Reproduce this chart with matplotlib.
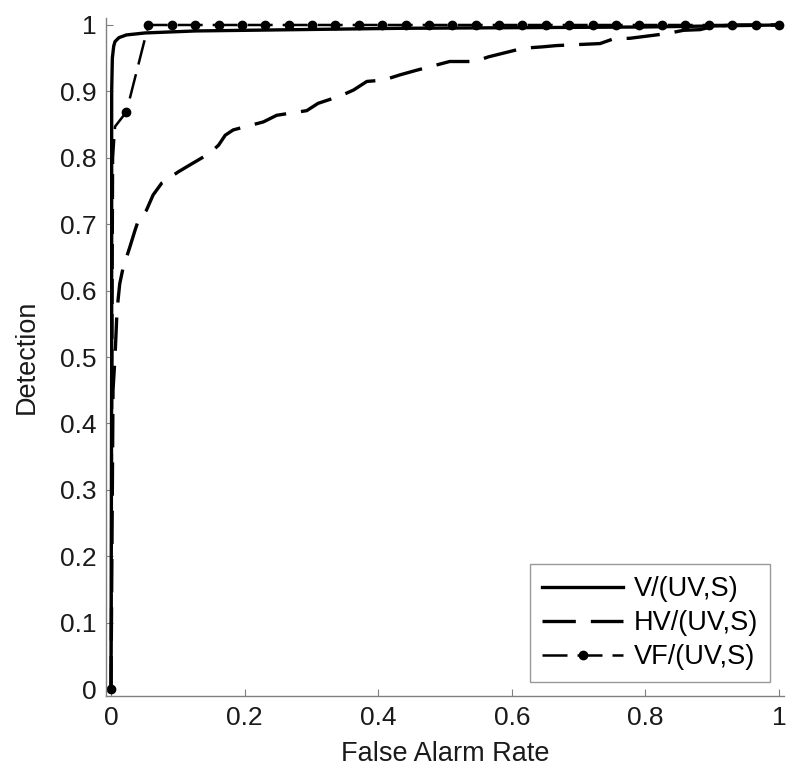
import matplotlib
matplotlib.use("Agg")
import matplotlib.pyplot as plt

plt.rcParams['font.family'] = ['Liberation Sans', 'DejaVu Sans']

# V/(UV,S) curve
v_far = [0.0, 0.001, 0.001, 0.002, 0.004, 0.006, 0.012, 0.023, 0.051, 0.126, 0.433, 0.800, 1.0]
v_det = [0.0, 0.50, 0.90, 0.950, 0.968, 0.975, 0.981, 0.985, 0.988, 0.991, 0.995, 0.997, 1.0]

# HV/(UV,S) curve
hv_far = [0.0, 0.003, 0.006, 0.009, 0.013, 0.018, 0.028, 0.036, 0.041, 0.053, 0.063,
          0.076, 0.101, 0.116, 0.148, 0.161, 0.171, 0.183, 0.228, 0.248, 0.293,
          0.310, 0.343, 0.363, 0.383, 0.408, 0.433, 0.458, 0.507, 0.545, 0.565,
          0.617, 0.645, 0.667, 0.732, 0.752, 0.777, 0.832, 0.857, 0.882, 0.902,
          0.930, 1.0]
hv_det = [0.0, 0.45, 0.50, 0.57, 0.61, 0.634, 0.665, 0.691, 0.706, 0.721, 0.744,
          0.762, 0.779, 0.788, 0.807, 0.819, 0.834, 0.842, 0.854, 0.864, 0.871,
          0.882, 0.893, 0.902, 0.915, 0.917, 0.925, 0.932, 0.945, 0.945, 0.952,
          0.965, 0.967, 0.969, 0.972, 0.979, 0.980, 0.987, 0.992, 0.993, 0.998,
          1.0, 1.0]

# VF/(UV,S) curve (points drawn with markers)
vf_far = [0.0, 0.003, 0.006, 0.023, 0.056, 0.091, 0.126, 0.161, 0.196, 0.231, 0.266,
          0.301, 0.336, 0.371, 0.406, 0.441, 0.476, 0.511, 0.546, 0.581, 0.616,
          0.651, 0.686, 0.721, 0.756, 0.790, 0.825, 0.860, 0.895, 0.930, 0.965, 1.0]
vf_det = [0.0, 0.80, 0.847, 0.869, 1.0, 1.0, 1.0, 1.0, 1.0, 1.0, 1.0,
          1.0, 1.0, 1.0, 1.0, 1.0, 1.0, 1.0, 1.0, 1.0, 1.0,
          1.0, 1.0, 1.0, 1.0, 1.0, 1.0, 1.0, 1.0, 1.0, 1.0, 1.0]
vf_marks = [0] + list(range(3, len(vf_far)))

labels = ['V/(UV,S)', 'HV/(UV,S)', 'VF/(UV,S)']

fig = plt.figure(figsize=(8, 7.83), dpi=100)
ax = fig.add_axes([0.1325, 0.1111, 0.8475, 0.8659])

ax.plot(v_far, v_det, '-', color='black', lw=2.4, label=labels[0])
ax.plot(hv_far, hv_det, color='black', lw=2.4, dashes=(10, 4.5), label=labels[1])
ax.plot(vf_far, vf_det, color='black', lw=1.8, dashes=(10, 4), marker='o',
        markersize=6, markevery=vf_marks, label=labels[2])

ax.set_xlim(-0.0075, 1.0075)
ax.set_ylim(-0.0105, 1.0105)
ax.set_xticks([0, 0.2, 0.4, 0.6, 0.8, 1])
ax.set_xticklabels(['0', '0.2', '0.4', '0.6', '0.8', '1'])
ax.set_yticks([i / 10 for i in range(11)])
ax.set_yticklabels(['0'] + ['0.%d' % i for i in range(1, 10)] + ['1'])

for s in ['top', 'right']:
    ax.spines[s].set_visible(False)
for s in ['left', 'bottom']:
    ax.spines[s].set_color('#808080')
    ax.spines[s].set_linewidth(1.0)
ax.tick_params(direction='in', length=5, color='#808080', labelsize=19, labelcolor='#1a1a1a')
ax.tick_params(axis='x', pad=7)
ax.tick_params(axis='y', pad=6.5)

ax.set_xlabel('False Alarm Rate', fontsize=19.5, color='#1a1a1a', labelpad=8)
ax.set_ylabel('Detection', fontsize=19.5, color='#1a1a1a', labelpad=15)

leg = ax.legend(loc='lower right', fontsize=19.5, handlelength=3.0, handletextpad=0.4,
                frameon=True, fancybox=False, edgecolor='#808080', borderaxespad=0.5,
                labelspacing=0.3, borderpad=0.45)
leg.get_frame().set_linewidth(1.0)

fig.savefig('out.png', dpi=100)
